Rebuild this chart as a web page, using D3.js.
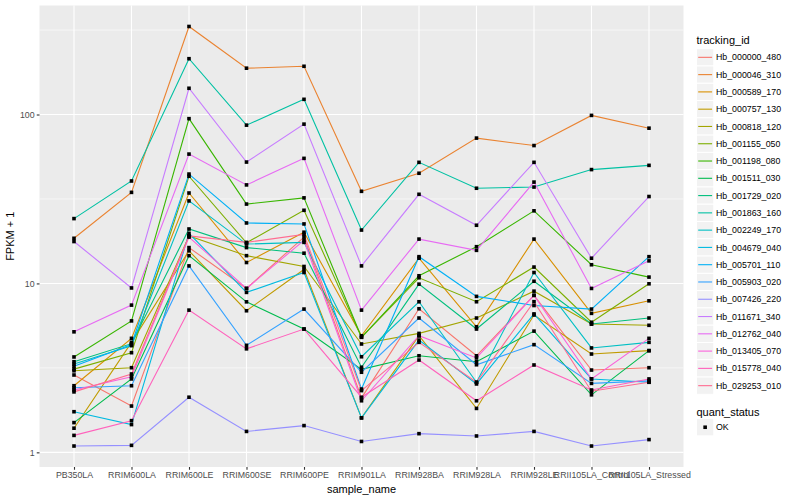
<!DOCTYPE html>
<html>
<head>
<meta charset="utf-8">
<script src="https://cdn.jsdelivr.net/npm/d3@7"></script>
<style>
  body { margin: 0; background: #fff; }
  text { font-family: "Liberation Sans", Arial, sans-serif; }
</style>
</head>
<body>
<svg id="svg" width="800" height="500"></svg>
<script>
(function() {
    'use strict';

    // 샘플 (x축 카테고리)
    var sampleNames = ['PB350LA', 'RRIM600LA', 'RRIM600LE', 'RRIM600SE', 'RRIM600PE', 'RRIM901LA',
        'RRIM928BA', 'RRIM928LA', 'RRIM928LE', 'RRII105LA_Control', 'RRII105LA_Stressed'];

    var trackingIds = ['Hb_000000_480', 'Hb_000046_310', 'Hb_000589_170', 'Hb_000757_130', 'Hb_000818_120',
        'Hb_001155_050', 'Hb_001198_080', 'Hb_001511_030', 'Hb_001729_020', 'Hb_001863_160',
        'Hb_002249_170', 'Hb_004679_040', 'Hb_005701_110', 'Hb_005903_020', 'Hb_007426_220',
        'Hb_011671_340', 'Hb_012762_040', 'Hb_013405_070', 'Hb_015778_040', 'Hb_029253_010'];

    // FPKM + 1, trackingIds 순서대로 한 줄씩
    var fpkm = [
        [2.87, 1.88, 16.3, 9.34, 18.8, 2.1, 7.08, 3.73, 8.5, 3.07, 3.17],
        [18.5, 34.6, 332, 188, 193, 35.1, 44.9, 72.5, 65.5, 98.8, 83],
        [2.48, 4.73, 34.3, 13.3, 20.1, 4.9, 14.1, 5.54, 18.3, 6.65, 7.89],
        [1.39, 4.48, 15.6, 6.89, 12.1, 1.6, 4.9, 1.82, 6.5, 3.82, 4.0],
        [3.04, 3.17, 19.1, 14.6, 12.6, 4.38, 5.06, 6.24, 9.0, 5.75, 5.65],
        [3.11, 3.89, 43.1, 17.4, 27.1, 4.8, 10.8, 7.79, 12.5, 5.89, 9.95],
        [3.67, 6.0, 94.5, 29.5, 32.1, 4.8, 11.1, 16.5, 26.9, 12.9, 10.9],
        [1.5, 2.72, 14.6, 7.78, 5.37, 3.1, 3.73, 3.44, 5.22, 2.19, 4.0],
        [3.44, 4.4, 21.0, 16.3, 15.1, 3.19, 9.9, 5.37, 10.3, 5.75, 6.24],
        [24.2, 40.4, 214, 86.5, 123, 20.7, 52.1, 36.6, 37.2, 47.2, 50],
        [3.33, 4.28, 30.8, 17.1, 17.5, 3.68, 7.79, 2.6, 11.6, 4.15, 4.48],
        [1.74, 1.46, 19.8, 8.85, 11.6, 1.6, 4.62, 2.54, 6.6, 2.72, 2.6],
        [3.23, 4.35, 44.4, 22.8, 22.5, 2.37, 14.4, 8.38, 7.4, 7.05, 14.4],
        [2.41, 2.48, 12.7, 4.3, 7.05, 2.98, 6.24, 3.3, 4.34, 2.56, 2.65],
        [1.09, 1.10, 2.12, 1.33, 1.44, 1.16, 1.29, 1.25, 1.33, 1.09, 1.19],
        [17.7, 9.4, 143, 52.3, 87.7, 12.7, 33.7, 22.1, 52.1, 14.1, 32.7],
        [5.17, 7.44, 58.3, 38.3, 55.0, 6.95, 18.3, 15.7, 39.8, 9.34, 13.6],
        [2.34, 2.8, 18.8, 9.34, 18.0, 2.02, 4.9, 3.62, 8.5, 2.72, 4.73],
        [1.26, 1.54, 6.95, 4.1, 5.37, 2.12, 3.52, 2.02, 3.29, 2.34, 2.72],
        [2.28, 2.91, 19.1, 17.5, 19.5, 2.32, 4.48, 2.6, 7.8, 2.3, 2.6]
    ];

    var yTicks = [1, 10, 100];
    var statusLabels = ['OK'];

    // ggplot 기본 hue 팔레트 (20색)
    var palette = ['#F8766D', '#EA8331', '#D89000', '#C09B00', '#A3A500', '#7CAE00', '#39B600', '#00BB4E',
        '#00BF7D', '#00C1A3', '#00BFC4', '#00BAE0', '#00B0F6', '#35A2FF', '#9590FF', '#C77CFF',
        '#E76BF3', '#FA62DB', '#FF62BC', '#FF6C91'];

    var svg = d3.select('#svg');
    var panel = { left: 39.5, right: 683.5, top: 5.5, bottom: 467 };

    var x = d3.scalePoint()
        .domain(sampleNames)
        .range([panel.left, panel.right])
        .padding(0.6);

    // 로그 스케일, 데이터 범위의 5% 여백 (ggplot 방식)
    var all = d3.merge(fpkm);
    var lo = Math.log10(d3.min(all)), hi = Math.log10(d3.max(all));
    var pad = (hi - lo) * 0.05;
    var y = d3.scaleLog()
        .domain([Math.pow(10, lo - pad), Math.pow(10, hi + pad)])
        .range([panel.bottom, panel.top]);

    var color = d3.scaleOrdinal().domain(trackingIds).range(palette);

    // 패널 배경
    svg.append('rect')
        .attr('x', panel.left).attr('y', panel.top)
        .attr('width', panel.right - panel.left)
        .attr('height', panel.bottom - panel.top)
        .attr('fill', '#EBEBEB');

    var grid = svg.append('g');
    var minor = yTicks.map(function (t) { return t * Math.sqrt(10); })
        .filter(function (t) { return y(t) >= panel.top && y(t) <= panel.bottom; });

    grid.selectAll('.minor').data(minor).enter().append('line')
        .attr('x1', panel.left).attr('x2', panel.right)
        .attr('y1', function (d) { return y(d); }).attr('y2', function (d) { return y(d); })
        .attr('stroke', '#fff').attr('stroke-width', 0.55);

    grid.selectAll('.major').data(yTicks).enter().append('line')
        .attr('x1', panel.left).attr('x2', panel.right)
        .attr('y1', function (d) { return y(d); }).attr('y2', function (d) { return y(d); })
        .attr('stroke', '#fff').attr('stroke-width', 1.1);

    grid.selectAll('.vgrid').data(sampleNames).enter().append('line')
        .attr('x1', function (d) { return x(d); }).attr('x2', function (d) { return x(d); })
        .attr('y1', panel.top).attr('y2', panel.bottom)
        .attr('stroke', '#fff').attr('stroke-width', 1.1);

    // 선
    var line = d3.line()
        .x(function (d, i) { return x(sampleNames[i]); })
        .y(function (d) { return y(d); });

    svg.append('g').selectAll('path')
        .data(fpkm).enter().append('path')
        .attr('d', line)
        .attr('fill', 'none')
        .attr('stroke', function (d, i) { return color(trackingIds[i]); })
        .attr('stroke-width', 1.1);

    // 점 (quant_status = OK)
    var pts = [];
    fpkm.forEach(function (row) {
        row.forEach(function (v, i) { pts.push({ s: sampleNames[i], v: v }); });
    });
    svg.append('g').selectAll('rect')
        .data(pts).enter().append('rect')
        .attr('x', function (d) { return x(d.s) - 1.8; })
        .attr('y', function (d) { return y(d.v) - 1.8; })
        .attr('width', 3.6).attr('height', 3.6)
        .attr('fill', '#000');

    // 축
    var yAxis = svg.append('g')
        .attr('transform', 'translate(' + panel.left + ',0)')
        .call(d3.axisLeft(y).tickValues(yTicks).tickFormat(d3.format('d')).tickSize(2.75).tickPadding(2.2));
    var xAxis = svg.append('g')
        .attr('transform', 'translate(0,' + panel.bottom + ')')
        .call(d3.axisBottom(x).tickSize(2.75).tickPadding(2.2));

    [yAxis, xAxis].forEach(function (a) {
        a.select('.domain').remove();
        a.selectAll('.tick line').attr('stroke', '#333333').attr('stroke-width', 1.1);
        a.selectAll('.tick text').attr('fill', '#4D4D4D').style('font-size', '8.8px');
    });

    svg.append('text')
        .attr('x', (panel.left + panel.right) / 2).attr('y', 493)
        .attr('text-anchor', 'middle')
        .style('font-size', '11px')
        .text('sample_name');

    svg.append('text')
        .attr('transform', 'translate(13.5,' + (panel.top + panel.bottom) / 2 + ') rotate(-90)')
        .attr('text-anchor', 'middle')
        .style('font-size', '11px')
        .text('FPKM + 1');

    // 범례
    var lg = svg.append('g').attr('transform', 'translate(696.5,0)');
    var keyH = 17.28;
    lg.append('text').attr('x', 0).attr('y', 44).style('font-size', '11px').text('tracking_id');

    var item = lg.selectAll('.item').data(trackingIds).enter().append('g')
        .attr('transform', function (d, i) { return 'translate(0,' + (48.7 + i * keyH) + ')'; });
    item.append('rect')
        .attr('width', keyH).attr('height', keyH)
        .attr('fill', '#F2F2F2').attr('stroke', '#fff').attr('stroke-width', 1);
    item.append('line')
        .attr('x1', 1.7).attr('x2', keyH - 1.7)
        .attr('y1', keyH / 2).attr('y2', keyH / 2)
        .attr('stroke', function (d) { return color(d); })
        .attr('stroke-width', 1.1);
    item.append('text')
        .attr('x', keyH + 2.2).attr('y', keyH / 2 + 3.1)
        .style('font-size', '8.8px')
        .text(function (d) { return d; });

    lg.append('text').attr('x', 0).attr('y', 415.5).style('font-size', '11px').text('quant_status');
    var st = lg.selectAll('.status').data(statusLabels).enter().append('g')
        .attr('transform', function (d, i) { return 'translate(0,' + (418.6 + i * keyH) + ')'; });
    st.append('rect')
        .attr('width', keyH).attr('height', keyH)
        .attr('fill', '#F2F2F2').attr('stroke', '#fff').attr('stroke-width', 1);
    st.append('rect')
        .attr('x', keyH / 2 - 1.8).attr('y', keyH / 2 - 1.8)
        .attr('width', 3.6).attr('height', 3.6)
        .attr('fill', '#000');
    st.append('text')
        .attr('x', keyH + 2.2).attr('y', keyH / 2 + 3.1)
        .style('font-size', '8.8px')
        .text(function (d) { return d; });
})();
</script>
</body>
</html>
